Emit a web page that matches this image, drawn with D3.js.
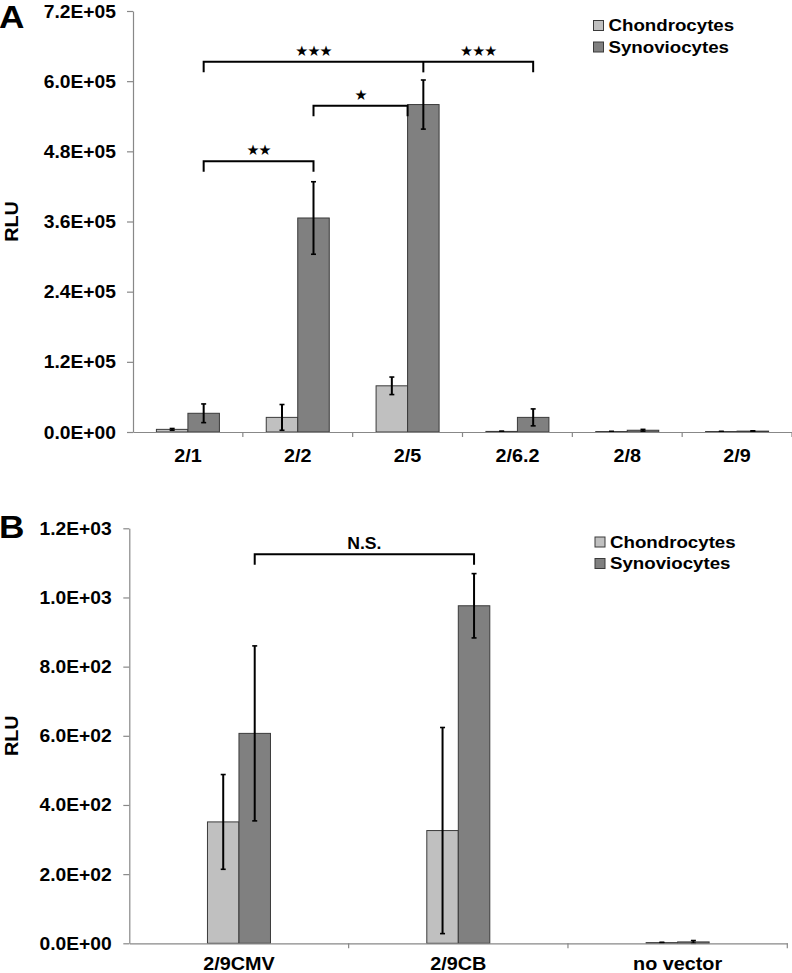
<!DOCTYPE html>
<html>
<head>
<meta charset="utf-8">
<script src="https://cdn.jsdelivr.net/npm/d3@7/dist/d3.min.js"></script>
<style>
  html, body { margin: 0; padding: 0; background: #fff; }
  svg { display: block; }
  text { font-family: "Liberation Sans", Arial, sans-serif; font-weight: bold; fill: #000; }
</style>
</head>
<body>
<svg id="chart" width="792" height="973"></svg>
<script>
// ---------- DATA ----------
const seriesNames = ["Chondrocytes", "Synoviocytes"];

const categoriesA = ["2/1", "2/2", "2/5", "2/6.2", "2/8", "2/9"];
const chondroA    = [4500, 25000, 79000, 1000, 800, 800];
const chondroErrA = [1500, 22000, 15000, 500, 300, 300];
const synovioA    = [32000, 366000, 560000, 25000, 3000, 1500];
const synovioErrA = [16000, 62000, 42000, 14500, 1500, 500];
const ticksA      = [0, 120000, 240000, 360000, 480000, 600000, 720000];

const categoriesB = ["2/9CMV", "2/9CB", "no vector"];
const chondroB    = [351, 326, 2];
const chondroErrB = [137, 298, 1];
const synovioB    = [607, 976, 4];
const synovioErrB = [253, 93, 4];
const ticksB      = [0, 200, 400, 600, 800, 1000, 1200];

// significance brackets: [fromCategory, toCategory, level, label]
const bracketsA = [
  ["2/1", "2/2", 463000, "★★"],
  ["2/2", "2/5", 558000, "★"],
  ["2/1", "2/6.2", 633000, "★★★"]
];
const bracketsB = [
  ["2/9CMV", "2/9CB", 1125, "N.S."]
];

// ---------- STYLE ----------
const colors = ["#c0c0c0", "#808080"];
const SX = 1.1; // horizontal text stretch seen in reference

const svg = d3.select("#chart");

function stext(g, x, y, str, opts) {
  const sx = opts.sx !== undefined ? opts.sx : SX;
  const t = g.append("text")
    .attr("transform", `translate(${x},${y}) scale(${sx},1)`)
    .attr("text-anchor", opts.anchor || "start")
    .style("font-size", (opts.size || 18) + "px")
    .text(str);
  if (opts.family) t.style("font-family", opts.family).style("font-weight", opts.weight || "normal");
  if (opts.ls !== undefined) t.style("letter-spacing", opts.ls + "px");
  if (opts.rotate) t.attr("transform", `translate(${x},${y}) rotate(${opts.rotate}) scale(${sx},1)`);
  return t;
}

function fmtE(v) {
  if (v === 0) return "0.0E+00";
  const s = v.toExponential(1);
  const [m, e] = s.split("e");
  const sign = e[0] === "-" ? "-" : "+";
  const ex = Math.abs(+e).toString().padStart(2, "0");
  return `${m}E${sign}${ex}`;
}

function panel(cfg) {
  const g = svg.append("g");
  const x = d3.scaleBand().domain(cfg.cats).range([cfg.x0, cfg.x1]);
  const y = d3.scaleLinear().domain([0, cfg.ymax]).range([cfg.yZero, cfg.yTop]);
  const bw = 31.5;
  const data = cfg.cats.map((c, i) => ({
    cat: c,
    vals: [
      { s: 0, v: cfg.chondro[i], e: cfg.chondroErr[i] },
      { s: 1, v: cfg.synovio[i], e: cfg.synovioErr[i] }
    ]
  }));
  const cx = (c, s) => x(c) + x.bandwidth() / 2 + (s === 0 ? -bw / 2 : bw / 2);

  // bars
  data.forEach(d => {
    d.vals.forEach(b => {
      g.append("rect")
        .attr("x", cx(d.cat, b.s) - bw / 2)
        .attr("y", y(b.v))
        .attr("width", bw)
        .attr("height", Math.max(0, y(0) - y(b.v)))
        .attr("fill", colors[b.s])
        .attr("stroke", "#3a3a3a")
        .attr("stroke-width", 1);
    });
  });
  // error bars
  data.forEach(d => {
    d.vals.forEach(b => {
      const xc = cx(d.cat, b.s);
      const y1 = y(b.v + b.e), y2 = y(Math.max(0, b.v - b.e));
      g.append("line").attr("x1", xc).attr("x2", xc).attr("y1", y1).attr("y2", y2)
        .attr("stroke", "#000").attr("stroke-width", 2);
      [y1, y2].forEach(yy => g.append("line").attr("x1", xc - 2.5).attr("x2", xc + 2.5)
        .attr("y1", yy).attr("y2", yy).attr("stroke", "#000").attr("stroke-width", 1.6));
    });
  });

  // y axis
  const yAxis = d3.axisLeft(y).tickValues(cfg.ticks).tickFormat("").tickSize(6).tickSizeOuter(0);
  const ya = g.append("g").attr("transform", `translate(${cfg.x0},0)`).call(yAxis);
  ya.select(".domain").attr("stroke", "#888").attr("stroke-width", 1.2);
  ya.selectAll(".tick line").attr("stroke", "#888").attr("stroke-width", 1.2);
  cfg.ticks.forEach(t => stext(g, cfg.labelRight, y(t) + 6.5, fmtE(t), { anchor: "end", size: 17.5 }));

  // x axis
  const xAxis = d3.axisBottom(x).tickFormat("").tickSize(0).tickSizeOuter(0);
  const xa = g.append("g").attr("transform", `translate(0,${cfg.yZero})`).call(xAxis);
  xa.select(".domain").attr("stroke", "#888").attr("stroke-width", 1.2);
  xa.selectAll(".tick").remove();
  const bounds = cfg.cats.map(c => x(c)).concat([x(cfg.cats[cfg.cats.length - 1]) + x.bandwidth()]);
  bounds.slice(1).forEach(b => g.append("line").attr("x1", b).attr("x2", b)
    .attr("y1", cfg.yZero).attr("y2", cfg.yZero + 5).attr("stroke", "#888").attr("stroke-width", 1.2));
  cfg.cats.forEach(c => stext(g, x(c) + x.bandwidth() / 2, cfg.catBase, c, { anchor: "middle", size: 18 }));

  // axis title
  stext(g, cfg.rluX, (cfg.yZero + cfg.yTop) / 2, "RLU", { anchor: "middle", size: 18, rotate: -90 });
  // panel letter
  stext(g, -1, cfg.letterBase, cfg.letter, { size: 32 });

  // legend
  seriesNames.forEach((n, i) => {
    const ly = cfg.legY + i * 21.5;
    g.append("rect").attr("x", cfg.legX).attr("y", ly - 10).attr("width", 10).attr("height", 10)
      .attr("fill", colors[i]).attr("stroke", "#3a3a3a").attr("stroke-width", 1);
    stext(g, cfg.legX + 15, ly + 0.5, n, { size: 17 });
  });

  // brackets
  const starOpts = px => ({ anchor: "middle", size: 14.5, family: "DejaVu Sans", sx: 1, ls: -0.8 });
  cfg.brackets.forEach(([a, b, lvl, lab], i) => {
    const xa1 = cx(a, 1), xb1 = cfg.bracketEnd && cfg.bracketEnd[i] === "center" ? x(b) + x.bandwidth() / 2 : cx(b, 1);
    const yy = y(lvl);
    g.append("path")
      .attr("d", `M${xa1},${yy + 10.5}V${yy}H${xb1}V${yy + 10.5}`)
      .attr("fill", "none").attr("stroke", "#000").attr("stroke-width", 2);
    if (lab.startsWith("★")) {
      if (lab === "★★★" && cfg.splitTriple) {
        const mid = cx(cfg.splitTriple, 1);
        g.append("line").attr("x1", mid).attr("x2", mid).attr("y1", yy).attr("y2", yy + 10.5)
          .attr("stroke", "#000").attr("stroke-width", 2);
        [(xa1 + mid) / 2, (mid + xb1) / 2].forEach(px => stext(g, px, yy - 6, lab, starOpts()));
      } else {
        stext(g, (xa1 + xb1) / 2, yy - 6, lab, starOpts());
      }
    } else {
      stext(g, (xa1 + xb1) / 2, yy - 5.5, lab, { anchor: "middle", size: 16 });
    }
  });
}

panel({
  cats: categoriesA, chondro: chondroA, chondroErr: chondroErrA, synovio: synovioA, synovioErr: synovioErrA,
  ticks: ticksA, ymax: 720000, x0: 133, x1: 792, yZero: 432, yTop: 11, labelRight: 116,
  catBase: 462, rluX: 18, letter: "A", letterBase: 28, legX: 593.5, legY: 30.5,
  brackets: bracketsA, bracketEnd: [null, "center", null], splitTriple: "2/5"
});

panel({
  cats: categoriesB, chondro: chondroB, chondroErr: chondroErrB, synovio: synovioB, synovioErr: synovioErrB,
  ticks: ticksB, ymax: 1200, x0: 129.3, x1: 787.3, yZero: 943.3, yTop: 528.3, labelRight: 111.7,
  catBase: 970, rluX: 18, letter: "B", letterBase: 538, legX: 595, legY: 547,
  brackets: bracketsB
});
</script>
</body>
</html>
